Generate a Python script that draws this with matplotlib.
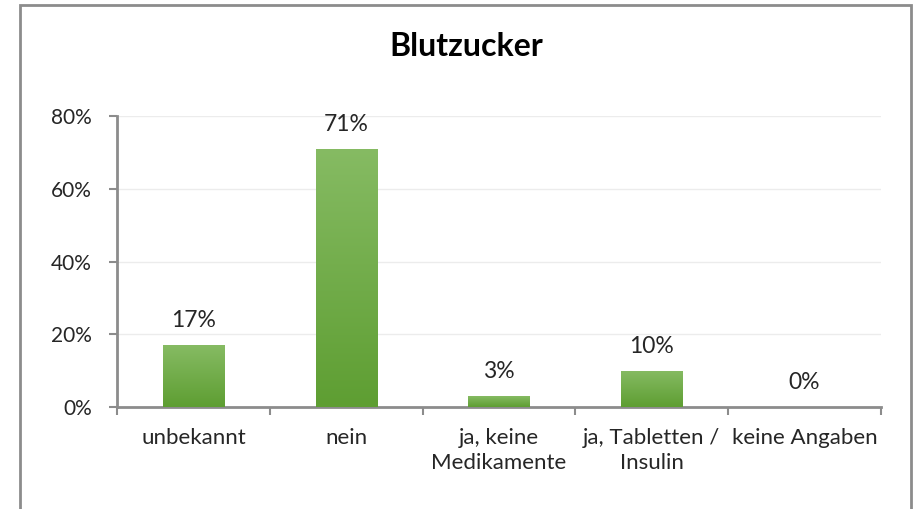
import numpy as np
import matplotlib
matplotlib.use('Agg')
import matplotlib.pyplot as plt
from matplotlib.patches import Rectangle
from matplotlib.colors import LinearSegmentedColormap

categories = ["unbekannt", "nein", "ja, keine\nMedikamente", "ja, Tabletten /\nInsulin", "keine Angaben"]
values = [0.17, 0.71, 0.03, 0.10, 0.0]
labels = ["17%", "71%", "3%", "10%", "0%"]
yticks = [0.0, 0.2, 0.4, 0.6, 0.8]
ytick_labels = ["0%", "20%", "40%", "60%", "80%"]

plt.rcParams['font.family'] = ['Lato', 'DejaVu Sans']

fig = plt.figure(figsize=(9.17, 5.09), dpi=100)
ax = fig.add_axes([117 / 917, 1 - 407 / 509, (881 - 117) / 917, (407 - 116) / 509])

# outer frame (bottom edge is cut off in the original)
fig.patches.append(Rectangle((20 / 917, -0.1), (911 - 20) / 917, 1.1 - 5 / 509,
                             transform=fig.transFigure, fill=False,
                             edgecolor='#8c8c8c', lw=2, clip_on=False))

x = np.arange(len(categories))
bars = ax.bar(x, values, width=0.4, color='#70ad47', zorder=2)

# vertical gradient in each bar
grad = LinearSegmentedColormap.from_list('g', ['#5e9e32', '#86bb63'])
g = np.linspace(0, 1, 256).reshape(-1, 1)
for b in bars:
    if b.get_height() <= 0:
        continue
    x0, w, h = b.get_x(), b.get_width(), b.get_height()
    im = ax.imshow(g, cmap=grad, aspect='auto', origin='lower',
                   extent=[x0, x0 + w, 0, h], zorder=3)
    im.set_clip_path(b)

for xi, v, lab in zip(x, values, labels):
    ax.annotate(lab, (xi, v), xytext=(0, 10), textcoords='offset points',
                ha='center', va='bottom', fontsize=16.5, color='#262626')

ax.set_xlim(-0.5, len(categories) - 0.5)
ax.set_ylim(0, 0.8)
ax.set_yticks(yticks)
ax.set_yticklabels(ytick_labels, fontsize=15, color='#262626')
ax.yaxis.grid(True, color='#ececec', lw=1, zorder=0)
ax.set_axisbelow(True)

# category ticks sit on the boundaries between bars
ax.set_xticks(np.arange(len(categories) + 1) - 0.5)
ax.set_xticklabels([])
ax.set_xticks(x, minor=True)
ax.set_xticklabels(categories, minor=True, fontsize=16, color='#262626', linespacing=1.3)
ax.tick_params(axis='x', which='major', length=6, color='#8c8c8c', width=1.5)
ax.tick_params(axis='x', which='minor', length=0, pad=15)
ax.tick_params(axis='y', length=6, color='#8c8c8c', width=1.5, pad=12)

for s in ['top', 'right']:
    ax.spines[s].set_visible(False)
for s in ['left', 'bottom']:
    ax.spines[s].set_color('#8c8c8c')
    ax.spines[s].set_linewidth(2)

fig.text(466 / 917, 1 - 47 / 509, "Blutzucker", ha='center', va='center',
         fontsize=23, fontweight='bold', color='#000000')

fig.savefig('out.png', dpi=100)
